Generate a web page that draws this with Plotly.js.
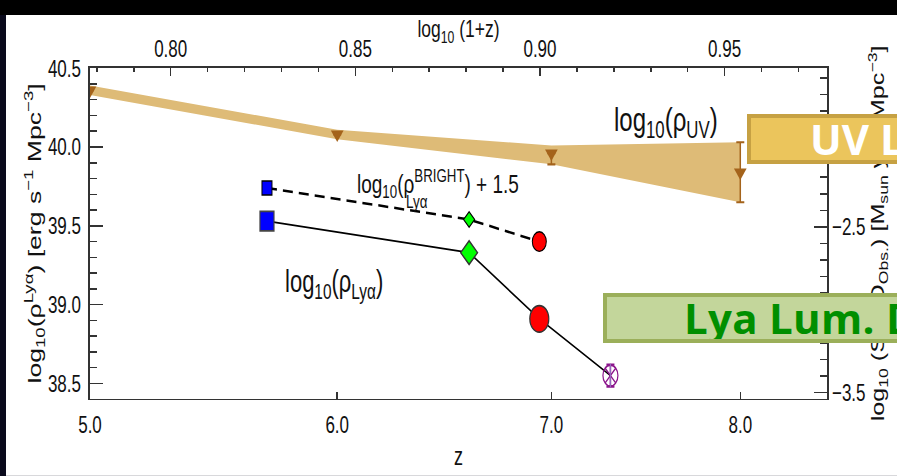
<!DOCTYPE html>
<html>
<head>
<meta charset="utf-8">
<script src="https://cdn.plot.ly/plotly-3.0.1.min.js"></script>
<style>
  html, body { margin: 0; padding: 0; width: 897px; height: 476px; overflow: hidden; background: #0a0a1c; position: relative; }
  #topband { position: absolute; left: 0; top: 0; width: 897px; height: 15px; background: #000; }
  #plot { position: absolute; left: 6px; top: 15px; width: 891px; height: 329px; background: #fff;
          transform-origin: 0 0; transform: scaleY(1.4); }
  .box { position: absolute; box-sizing: border-box; height: 50px; white-space: nowrap; overflow: hidden; }
  .box span { position: absolute; top: 0; font-family: "Open Sans", Lato, sans-serif; font-weight: 700;
              font-size: 42px; line-height: 42px; }
  #uvbox { left: 747px; top: 114px; width: 160px; background: #EBC55C; border: 4px solid #C6A143; }
  #uvbox span { left: 59px; color: #ffffff; }
  #lyabox { left: 603px; top: 293px; width: 300px; background: #C3D69B; border: 4px solid #9BAF5A; }
  #lyabox span { left: 77px; top: 0px; color: #008F00; letter-spacing: 0.3px; }
</style>
</head>
<body>
<div id="topband"></div>
<div id="plot"></div>
<div class="box" id="uvbox"><span>UV Lum. Density</span></div>
<div class="box" id="lyabox"><span>Lya Lum. Density</span></div>
<script>
// ---- data (redshift z, log10 densities) ----
const uvZ        = [5.0, 6.0, 7.0, 8.0];
const uvUpper    = [40.39, 40.11, 40.01, 40.03];
const uvLower    = [40.33, 40.05, 39.89, 39.65];
const uvPoint    = [40.36, 40.08, 39.96, 39.84];
const uvErrPlus  = [0, 0, 0, 0.19];
const uvErrMinus = [0, 0, 0.07, 0.19];

const lyaZ       = [5.7, 6.6, 6.94, 7.3];
const lyaVal     = [39.53, 39.33, 38.91, 38.55];
const lyaErr     = [0, 0, 0, 0.07];

const brightZ    = [5.7, 6.6, 6.94];
const brightVal  = [39.74, 39.54, 39.40];

const zTicks     = [5, 6, 7, 8];
const zTickText  = ['5.0', '6.0', '7.0', '8.0'];

// ---- helpers ----
const lz = z => Math.log10(1 + z);
const FONT = '"Liberation Sans", Arial, sans-serif';
const AX = '#333333';

const traces = [
  { // UV band
    x: uvZ.map(lz).concat(uvZ.slice().reverse().map(lz)),
    y: uvUpper.concat(uvLower.slice().reverse()),
    mode: 'lines', fill: 'toself', fillcolor: '#DEBB77',
    line: { width: 0, color: '#DEBB77' }, hoverinfo: 'skip', showlegend: false
  },
  { // UV points
    x: uvZ.map(lz), y: uvPoint, mode: 'markers',
    marker: { symbol: 'triangle-down', size: 11, color: '#A4631B', opacity: 1 },
    error_y: { type: 'data', symmetric: false, array: uvErrPlus, arrayminus: uvErrMinus,
               color: '#A4631B', thickness: 1.5, width: 4 },
    showlegend: false
  },
  { // bright Lya (+1.5), dashed
    x: brightZ.map(lz), y: brightVal, mode: 'lines+markers',
    line: { color: '#000', width: 1.8, dash: '10px,6px' },
    marker: { symbol: ['square', 'diamond', 'circle'], size: [10, 8.5, 14], opacity: 1,
              color: ['#0000FF', '#00FF00', '#FF0000'] },
    showlegend: false
  },
  { // Lya density, solid
    x: lyaZ.map(lz), y: lyaVal, mode: 'lines+markers',
    line: { color: '#000', width: 1.3 },
    marker: { symbol: ['square', 'diamond', 'circle', 'circle-x-open'], size: [14, 13, 19, 15],
              opacity: 1,
              color: ['#0000FF', '#00FF00', '#FF0000', '#8B158B'],
              line: { color: ['#444', '#333', '#333', '#8B158B'], width: 1.2 } },
    error_y: { type: 'data', symmetric: false, array: lyaErr, arrayminus: lyaErr,
               color: '#8B158B', thickness: 1.5, width: 4 },
    showlegend: false
  },
  { // vertical stroke of the purple asterisk marker
    x: lyaZ.slice(3).map(lz), y: lyaVal.slice(3), mode: 'markers',
    marker: { symbol: 'line-ns-open', size: 12, opacity: 1, line: { color: '#8B158B', width: 1.2 } },
    showlegend: false
  },
  { x: [], y: [], xaxis: 'x2', yaxis: 'y2', mode: 'markers', showlegend: false }
];

const axCommon = {
  showline: true, linecolor: AX, showgrid: false, zeroline: false,
  ticks: 'inside', tickcolor: AX,
  tickfont: { family: FONT, size: 17, color: '#111' }
};

const layout = {
  width: 891, height: 329,
  margin: { l: 84, r: 70, t: 38, b: 55 },
  paper_bgcolor: '#fff', plot_bgcolor: '#fff',
  font: { family: FONT, color: '#111' },
  showlegend: false,
  xaxis: Object.assign({}, axCommon, {
    linewidth: 1.3, tickwidth: 1.5,
    range: [lz(5), lz(8.5)], tickmode: 'array',
    tickvals: zTicks.map(lz), ticktext: zTickText, ticklen: 4.5, ticklabelstandoff: 3,
    title: { text: 'z', font: { family: FONT, size: 18 }, standoff: 7 }
  }),
  xaxis2: Object.assign({}, axCommon, {
    linewidth: 1.3, tickwidth: 1.5,
    overlaying: 'x', side: 'top', range: [lz(5), lz(8.5)],
    tick0: 0.8, dtick: 0.05, tickformat: '.2f', ticklen: 5.5, ticklabelstandoff: 0,
    minor: { dtick: 0.01, ticklen: 3, ticks: 'inside', tickcolor: AX, tickwidth: 1.5 },
    title: { text: 'log<sub>10</sub> (1+z)', font: { family: FONT, size: 17.5 }, standoff: 1 }
  }),
  yaxis: Object.assign({}, axCommon, {
    linewidth: 1.6, tickwidth: 1.1,
    range: [38.404, 40.5], tick0: 38.5, dtick: 0.5, tickformat: '.1f', ticklen: 13,
    ticklabelstandoff: 4,
    minor: { dtick: 0.1, ticklen: 7, ticks: 'inside', tickcolor: AX, tickwidth: 1.1 },
    title: { text: 'log<sub>10</sub>(ρ<sup>Lyα</sup>) [erg s<sup>−1</sup> Mpc<sup>−3</sup>]',
             font: { family: FONT, size: 19 }, standoff: 1 }
  }),
  yaxis2: Object.assign({}, axCommon, {
    linewidth: 1.6, tickwidth: 1.1,
    overlaying: 'y', side: 'right', range: [-3.536, -1.542],
    tick0: -3.5, dtick: 0.5, tickformat: '.1f', ticklen: 13, ticklabelstandoff: 0,
    minor: { dtick: 0.1, ticklen: 7, ticks: 'inside', tickcolor: AX, tickwidth: 1.1 },
    title: { text: 'log<sub>10</sub> (SFRD<sub>Obs.</sub>) [M<sub>sun</sub> yr<sup>−1</sup> Mpc<sup>−3</sup>]',
             font: { family: FONT, size: 18 }, standoff: 0 }
  }),
  annotations: [
    { xref: 'x', yref: 'y', x: 0.934, y: 40.16, xanchor: 'center', yanchor: 'middle',
      text: 'log<sub>10</sub>(ρ<sub>UV</sub>)', showarrow: false,
      font: { family: FONT, size: 24, color: '#111' } },
    { xref: 'x', yref: 'y', x: 0.850, y: 39.77, xanchor: 'left', yanchor: 'middle',
      text: 'log<sub>10</sub>(ρ<sup>BRIGHT</sup>) + 1.5', showarrow: false,
      font: { family: FONT, size: 19, color: '#111' } },
    { xref: 'x', yref: 'y', x: 0.8633, y: 39.65, xanchor: 'left', yanchor: 'middle',
      text: 'Lyα', showarrow: false,
      font: { family: FONT, size: 13.5, color: '#111' } },
    { xref: 'x', yref: 'y', x: 0.8303, y: 39.13, xanchor: 'left', yanchor: 'middle',
      text: 'log<sub>10</sub>(ρ<sub>Lyα</sub>)', showarrow: false,
      font: { family: FONT, size: 22, color: '#111' } }
  ]
};

Plotly.newPlot('plot', traces, layout, { staticPlot: true, displayModeBar: false });
</script>
</body>
</html>
